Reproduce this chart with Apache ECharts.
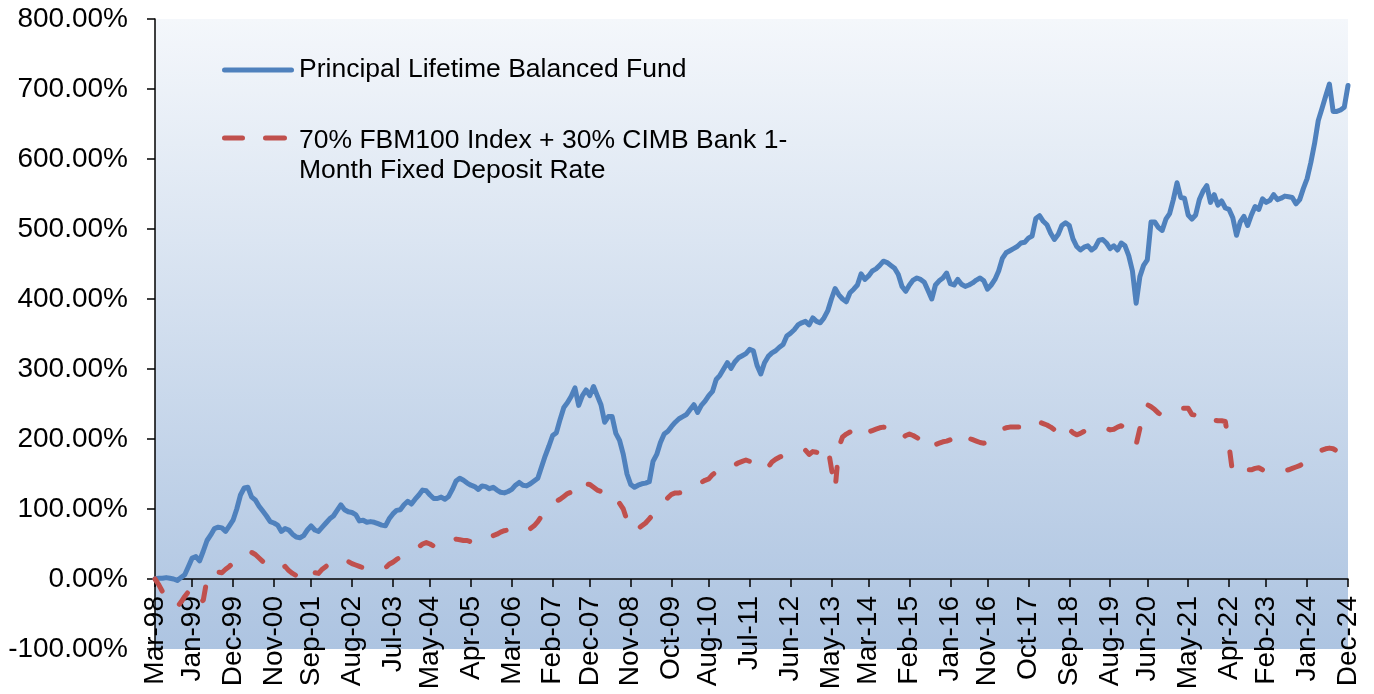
<!DOCTYPE html>
<html>
<head>
<meta charset="utf-8">
<title>Principal Lifetime Balanced Fund</title>
<script src="https://cdn.jsdelivr.net/npm/echarts@6/dist/echarts.min.js"></script>
<style>
  html, body { margin: 0; padding: 0; background: #fff; }
  #chart { width: 1374px; height: 694px; }
</style>
</head>
<body>
<div id="chart"></div>
<script>
// month labels Mar-98 .. Dec-24 (monthly)
const MONTH_NAMES = ['Jan', 'Feb', 'Mar', 'Apr', 'May', 'Jun', 'Jul', 'Aug', 'Sep', 'Oct', 'Nov', 'Dec'];
const categories = [];
for (let k = 0; k < 322; k++) {
  const m = (2 + k) % 12;
  const yr = (1998 + Math.floor((2 + k) / 12)) % 100;
  categories.push(MONTH_NAMES[m] + '-' + String(yr).padStart(2, '0'));
}

// labels shown on the x axis
const tickLabels = ['Mar-98', 'Jan-99', 'Dec-99', 'Nov-00', 'Sep-01', 'Aug-02', 'Jul-03', 'May-04',
  'Apr-05', 'Mar-06', 'Feb-07', 'Dec-07', 'Nov-08', 'Oct-09', 'Aug-10', 'Jul-11', 'Jun-12',
  'May-13', 'Mar-14', 'Feb-15', 'Jan-16', 'Nov-16', 'Oct-17', 'Sep-18', 'Aug-19', 'Jun-20',
  'May-21', 'Apr-22', 'Feb-23', 'Jan-24', 'Dec-24'];

// cumulative return, %
const fundName = 'Principal Lifetime Balanced Fund';
const fund = [
  0, 1, 1, 2, 1, 0, -2, 2, 6, 18,
  30, 32, 26, 40, 55, 63, 72, 74, 73, 68,
  76, 84, 100, 120, 130, 131, 117, 113, 104, 97,
  90, 82, 80, 77, 68, 72, 70, 64, 60, 59,
  62, 70, 76, 70, 68, 74, 80, 86, 90, 98,
  106, 99, 96, 95, 92, 83, 84, 81, 82, 81,
  79, 77, 76, 86, 93, 98, 99, 106, 111, 107,
  114, 120, 127, 126, 120, 115, 115, 117, 114, 118,
  128, 140, 144, 141, 137, 134, 132, 128, 133, 132,
  129, 131, 127, 124, 123, 125, 128, 134, 138, 134,
  133, 136, 140, 144, 160, 176, 190, 205, 209, 228,
  245, 252, 261, 273, 248, 262, 270, 262, 275, 262,
  249, 224, 232, 232, 208, 198, 178, 150, 135, 131,
  134, 136, 137, 139, 168, 178, 195, 207, 211, 218,
  224, 229, 232, 235, 242, 249, 238, 248, 254, 262,
  268, 285, 291, 300, 309, 301, 310, 316, 319, 322,
  328, 326, 305, 293, 309, 318, 323, 326, 331, 335,
  347, 351, 356, 363, 366, 368, 363, 373, 368, 366,
  373, 383, 400, 415, 406, 400, 396, 409, 414, 420,
  436, 428, 433, 440, 443, 448, 454, 452, 448, 444,
  435, 418, 411, 420, 427, 430, 428, 424, 412, 400,
  420, 426, 430, 437, 422, 420, 428, 421, 418, 420,
  423, 427, 430, 426, 414, 420, 428, 440, 458, 466,
  469, 472, 475, 480, 481, 487, 490, 515, 519, 511,
  506, 494, 485, 492, 505, 509, 505, 486, 475, 470,
  474, 476, 470, 474, 484, 485, 480, 472, 476, 470,
  480, 476, 462, 440, 394, 432, 448, 456, 510, 510,
  502, 498, 514, 522, 542, 566, 545, 544, 520, 514,
  520, 542, 554, 562, 538, 549, 534, 540, 530, 528,
  516, 491, 510, 518, 505, 520, 532, 528, 543, 538,
  541, 549, 542, 544, 547, 546, 545, 536, 542, 558,
  572, 595, 622, 655, 672, 690, 707, 668, 668, 670,
  674, 705
];

const benchName = '70% FBM100 Index + 30% CIMB Bank 1-\nMonth Fixed Deposit Rate';
const bench = [
  0, -8, -18, -26, -33, -38, -40, -33, -25, -18,
  -15, -25, -35, -30, 0, 12, 12, 10, 9, 14,
  18, 23, 26, 30, 35, 38, 38, 35, 30, 25,
  20, 15, 13, 13, 16, 18, 12, 8, 5, 3,
  5, 10, 16, 9, 8, 14, 18, 22, 26, 29,
  30, 27, 25, 22, 20, 18, 16, 16, 17, 17,
  15, 14, 16, 21, 24, 28, 31, 34, 37, 40,
  42, 46, 50, 52, 50, 47, 45, 45, 48, 52,
  56, 57, 56, 55, 55, 53, 54, 55, 61, 63,
  62, 62, 64, 67, 69, 70, 69, 69, 68, 66,
  70, 72, 76, 82, 90, 94, 101, 107, 111, 114,
  118, 122, 124, 123, 119, 128, 136, 135, 131, 127,
  125, 117, 120, 117, 112, 108, 100, 84, 69, 70,
  72, 76, 80, 86, 92, 96, 103, 110, 116, 121,
  123, 123, 124, 125, 130, 134, 136, 138, 141, 143,
  149, 153, 156, 155, 155, 160, 163, 166, 168, 170,
  168, 159, 156, 157, 159, 160, 167, 171, 174, 176,
  178, 178, 180, 181, 183, 184, 178, 182, 181, 180,
  186, 190, 158, 128, 188, 203, 207, 210, 212, 213,
  204, 208, 210, 212, 214, 216, 217, 216, 214, 213,
  207, 201, 205, 207, 205, 202, 199, 197, 190, 185,
  192, 194, 196, 197, 199, 201, 198, 192, 196, 201,
  199, 197, 195, 194, 196, 199, 203, 210, 214, 216,
  217, 217, 217, 217, 216, 216, 222, 226, 224, 222,
  220, 217, 213, 219, 225, 220, 214, 209, 206, 208,
  211, 213, 214, 216, 216, 216, 215, 213, 214, 217,
  219, 214, 208, 200, 192, 215, 235, 249, 246, 242,
  237, 234, 236, 238, 240, 242, 244, 244, 244, 235,
  234, 233, 236, 236, 228, 227, 226, 226, 225, 190,
  150, 152, 156, 156, 156, 156, 158, 159, 156, 154,
  152, 152, 153, 154, 155, 156, 158, 160, 162, 165,
  169, 174, 178, 181, 184, 186, 187, 186, 183, 182,
  182, 182
];

const FONT = 'Liberation Sans, Arial, sans-serif';
const BLUE = '#4f81bd';
const RED = '#c0504d';
const labelSet = new Set(tickLabels);
const showLabel = function(idx, val) { return labelSet.has(val); };

// legend keys drawn like the Excel ones (thick solid line / two round dashes)
const solidIcon = 'path://M2.5,0H69.5A2.5,2.5,0,0,1,69.5,5H2.5A2.5,2.5,0,0,1,2.5,0Z';
const dashIcon = 'path://M2.5,0H20.5A2.5,2.5,0,0,1,20.5,5H2.5A2.5,2.5,0,0,1,2.5,0Z' +
  'M43.5,0H62.5A2.5,2.5,0,0,1,62.5,5H43.5A2.5,2.5,0,0,1,43.5,0Z';

let myChart = echarts.init(document.getElementById('chart'));
myChart.setOption({
  animation: false,
  grid: {
    left: 155, right: 26, top: 19, bottom: 45,
    outerBoundsMode: 'none',
    containLabel: false,
    show: true,
    z: -1,
    borderWidth: 0,
    backgroundColor: new echarts.graphic.LinearGradient(0, 0, 0, 1, [
      { offset: 0, color: '#f4f7fb' },
      { offset: 1, color: '#adc4e1' }
    ])
  },
  legend: [
    {
      data: [{ name: fundName, icon: solidIcon, itemStyle: { color: BLUE } }],
      left: 222, top: 55, padding: 0,
      itemWidth: 72, itemHeight: 5,
      textStyle: { fontFamily: FONT, fontSize: 26.5, color: '#000', lineHeight: 30 }
    },
    {
      data: [{ name: benchName, icon: dashIcon, itemStyle: { color: RED } }],
      left: 222, top: 90, padding: 0,
      itemWidth: 65, itemHeight: 5,
      // empty first line pushes the first text line level with the key
      formatter: function(name) { return '{gap|}\n' + name; },
      textStyle: {
        fontFamily: FONT, fontSize: 26.5, color: '#000', lineHeight: 30, padding: [0, 0, 0, 7],
        rich: { gap: { lineHeight: 36, height: 36 } }
      }
    }
  ],
  xAxis: {
    type: 'category',
    data: categories,
    boundaryGap: false,
    // axis drawn at the 0% line (70px above the grid bottom)
    offset: -70,
    axisLine: { onZero: false, lineStyle: { color: '#000', width: 1.5 } },
    axisTick: { show: true, interval: showLabel, length: 8, lineStyle: { color: '#000', width: 1.5 } },
    axisLabel: {
      interval: showLabel,
      rotate: 90,
      margin: 17,
      fontFamily: FONT,
      fontSize: 28,
      color: '#000'
    },
    splitLine: { show: false }
  },
  yAxis: {
    type: 'value',
    min: -100, max: 800, interval: 100,
    axisLine: { show: true, lineStyle: { color: '#000', width: 1.5 } },
    axisTick: { show: true, length: 8, lineStyle: { color: '#000', width: 1.5 } },
    axisLabel: {
      margin: 27,
      fontFamily: FONT,
      fontSize: 28,
      color: '#000',
      formatter: function(v) { return v.toFixed(2) + '%'; }
    },
    splitLine: { show: false }
  },
  series: [
    {
      name: fundName,
      type: 'line',
      data: fund,
      symbol: 'none',
      lineStyle: { color: BLUE, width: 5, cap: 'round', join: 'round' },
      itemStyle: { color: BLUE }
    },
    {
      name: benchName,
      type: 'line',
      data: bench,
      symbol: 'none',
      lineStyle: { color: RED, width: 5, type: [14, 26], cap: 'round', join: 'round' },
      itemStyle: { color: RED }
    }
  ]
});
window.addEventListener('resize', function() {
  myChart.resize();
});
</script>
</body>
</html>
